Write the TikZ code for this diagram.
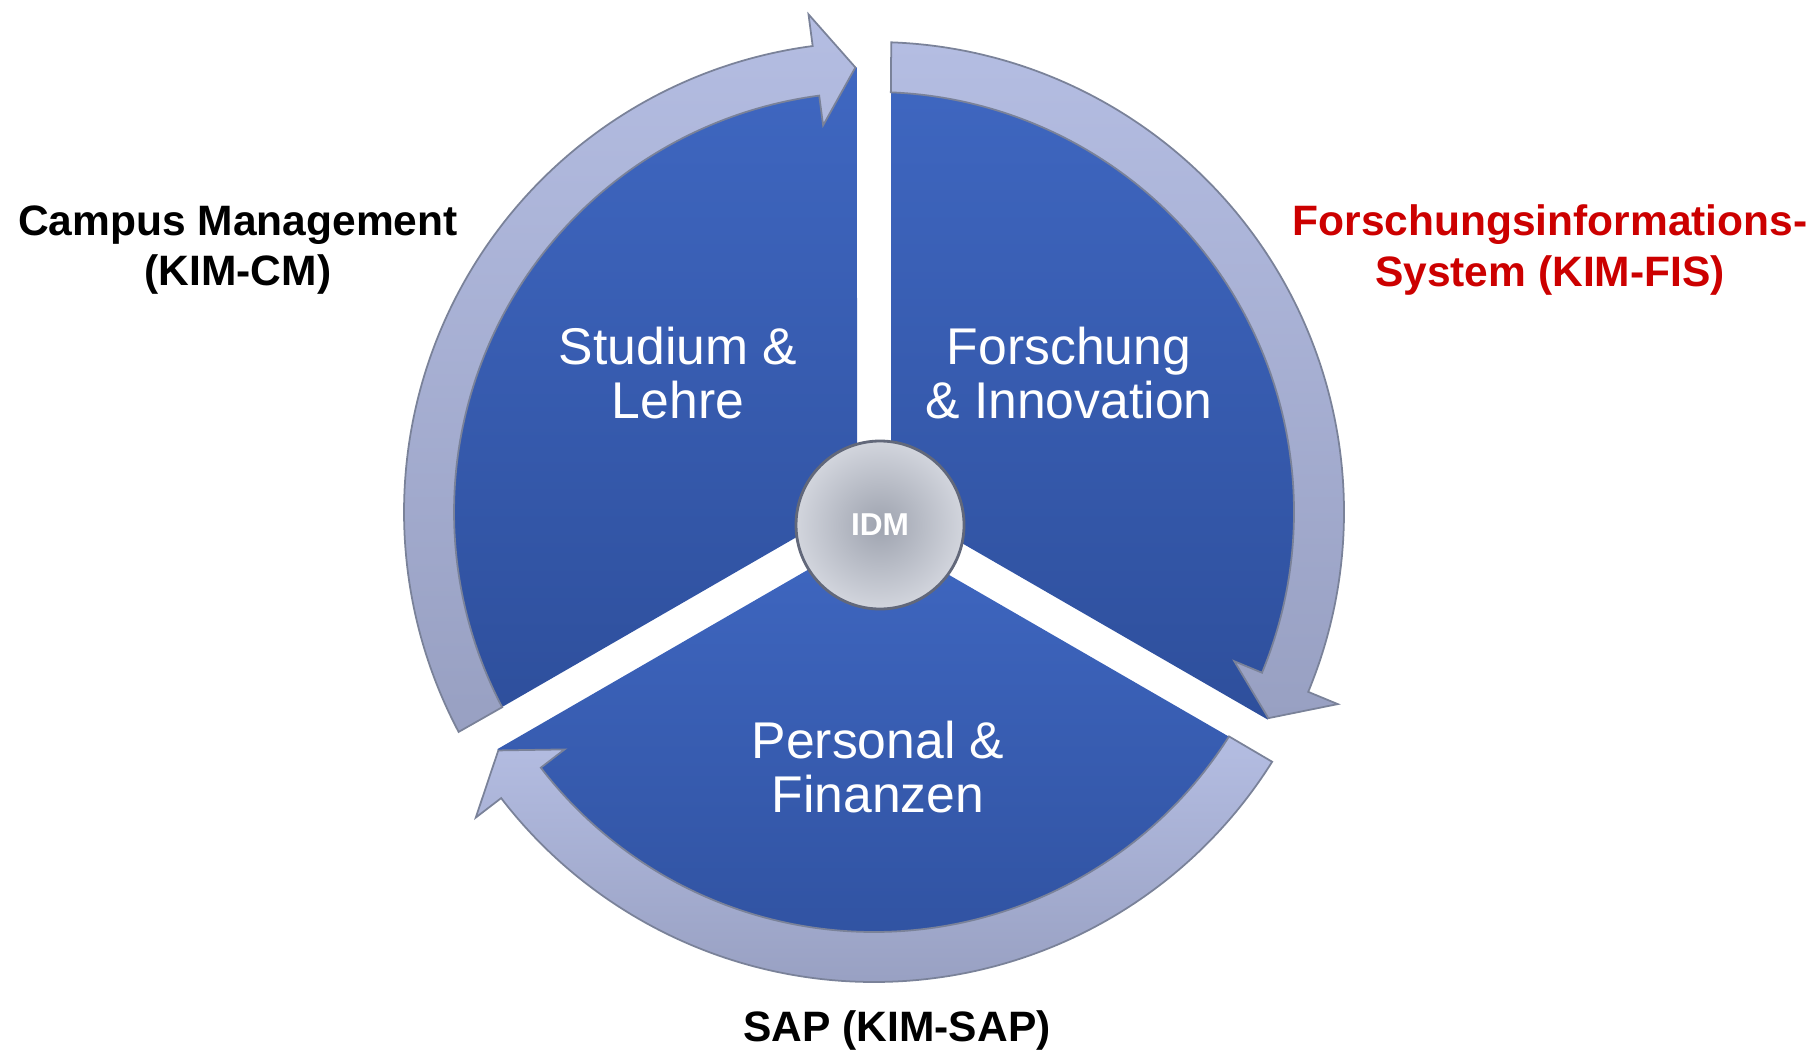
\documentclass[tikz,border=0pt]{standalone}
\usepackage{fontspec}
\setmainfont{Liberation Sans}
\usetikzlibrary{positioning}

\definecolor{sectop}{HTML}{3F67C1}
\definecolor{secbot}{HTML}{2E4F9C}
\definecolor{ringtop}{HTML}{B4BDE2}
\definecolor{ringbot}{HTML}{98A0C2}
\definecolor{ringedge}{HTML}{7A8299}
\definecolor{idmin}{HTML}{9EA3AF}
\definecolor{idmout}{HTML}{D2D5DD}
\definecolor{fisred}{HTML}{CC0000}

\begin{document}
\begin{tikzpicture}[
      sector/.style={
         top color=sectop,
         bottom color=secbot},
      ring_arrow/.style={
         top color=ringtop,
         bottom color=ringbot,
         draw=ringedge,
         line width=0.5pt,
         line join=miter},
      sector_text/.style={
         align=center,
         text=white,
         inner sep=0pt,
         font=\fontsize{14.7}{15.6}\selectfont},
      side_label/.style={
         align=center,
         inner sep=0pt,
         font=\fontsize{12.1}{14.4}\selectfont\bfseries},
      idm_node/.style={
         circle,
         draw=ringedge!80!black,
         line width=0.8pt,
         inner color=idmin,
         outer color=idmout,
         text=white,
         minimum size=1.68cm,
         font=\fontsize{9}{10}\selectfont\bfseries}
]
      \useasboundingbox (0,0) rectangle (18.14,10.53);

      %pie with three sectors and ring arrows
      \begin{scope}[shift={(8.74,5.41)}]
        \foreach \a in {90,210,330}
          \shade[sector] ({\a+60}:0.196) -- ({\a+117.8}:4.45)
            arc[start angle=\a+117.8, end angle=\a+2.2, radius=4.45] -- cycle;

        \foreach \a in {90,210,330}
          \shadedraw[ring_arrow] ({\a+117.9}:4.7)
            arc[start angle=\a+117.9, end angle=\a+7.5, radius=4.7]
            -- ({\a+7.5}:5.02) -- ({\a+2.4}:4.45) -- ({\a+7.5}:3.9)
            -- ({\a+7.5}:4.2)
            arc[start angle=\a+7.5, end angle=\a+117.7, radius=4.2] -- cycle;
      \end{scope}

      \node[idm_node] (idm) at (8.8,5.28) {IDM};

      %sector texts
      \node[sector_text] (studium) at (6.78,6.80) {Studium \&\\Lehre};
      \node[sector_text] (forschung) at (10.69,6.80) {Forschung\\\& Innovation};
      \node[sector_text] (personal) at (8.78,2.86) {Personal \&\\Finanzen};

      %systems
      \node[side_label] (cm) at (2.38,8.03) {Campus Management\\(KIM-CM)};
      \node[side_label,text=fisred] (fis) at (15.50,8.03) {Forschungsinformations-\\System (KIM-FIS)};
      \node[side_label] (sap) at (8.97,0.23) {SAP (KIM-SAP)};

\end{tikzpicture}
\end{document}
